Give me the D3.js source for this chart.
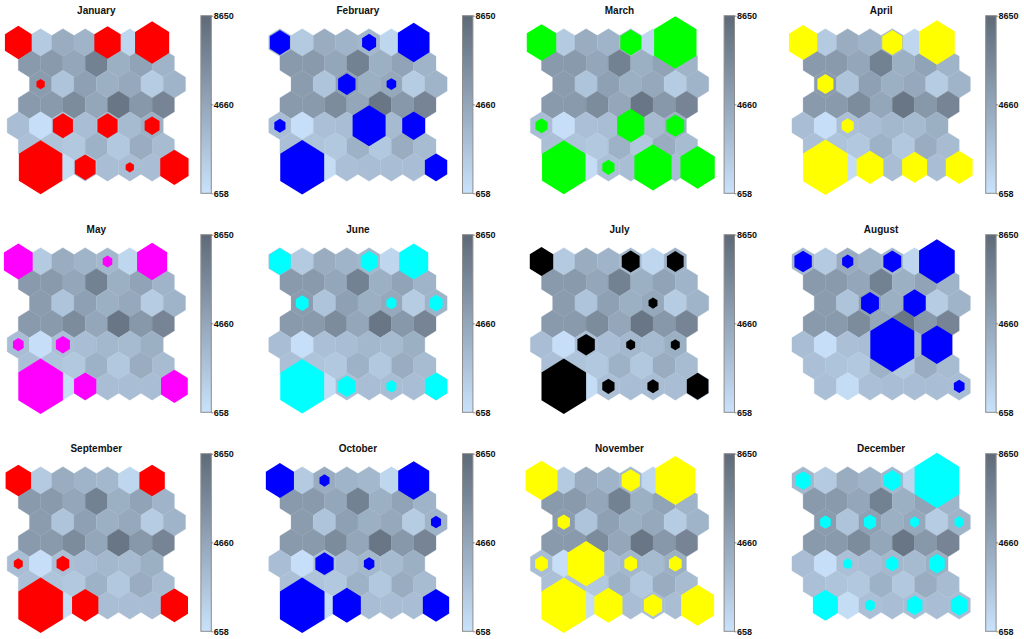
<!DOCTYPE html>
<html><head><meta charset="utf-8">
<script src="https://cdn.jsdelivr.net/npm/d3@7"></script>
<style>body{margin:0;background:#fff}svg{display:block}</style>
</head><body><svg id="c" width="1024" height="639"></svg>
<script>
const months = ["January","February","March","April","May","June","July","August","September","October","November","December"];
const hitColors = ["#ff0000","#0000ff","#00ff00","#ffff00","#ff00ff","#00ffff","#000000","#0000ff","#ff0000","#0000ff","#ffff00","#00ffff"];
const colorTicks = [658, 4660, 8650];
// component plane values, 7 rows x 7 columns
const planeRow0 = [3455, 2256, 4254, 3695, 3455, 1457, 3855];
const planeRow1 = [5453, 5453, 4654, 7052, 4015, 4814, 3695];
const planeRow2 = [5293, 2656, 5054, 4015, 4494, 2097, 3695];
const planeRow3 = [5453, 5453, 6412, 4654, 7851, 5613, 6892];
const planeRow4 = [3056, 898, 2896, 3056, 3455, 3295, 4015];
const planeRow5 = [2896, 2656, 2416, 3855, 2416, 4254, 3215];
const planeRow6 = [2896, 1058, 2896, 3056, 3056, 3056, 3056];
const rowShift = [0, 0.5, 1, 0.5, 0, 0.5, 1];
// hits: [row, col, relative hit size]
const hitsJan = [[0,0,1.2],[0,4,1.18],[0,6,1.53],[2,0,0.37],[4,2,0.9],[4,4,0.9],[4,6,0.67],[6,0,1.95],[6,2,0.93],[6,4,0.37],[6,6,1.27]];
const hitsFeb = [[0,0,0.9],[0,4,0.63],[0,6,1.42],[2,2,0.78],[2,4,0.43],[4,0,0.5],[4,4,1.48],[4,6,1.03],[6,0,1.97],[6,6,1.0]];
const hitsMar = [[0,0,1.32],[0,4,0.93],[0,6,1.9],[4,0,0.54],[4,4,1.22],[4,6,0.8],[6,0,1.95],[6,2,0.55],[6,4,1.67],[6,6,1.54]];
const hitsApr = [[0,0,1.27],[0,4,0.9],[0,6,1.6],[2,0,0.72],[4,2,0.54],[6,0,2.0],[6,2,1.2],[6,4,1.12],[6,6,1.2]];
const hitsMay = [[0,0,1.29],[0,4,0.43],[0,6,1.35],[4,0,0.48],[4,2,0.63],[6,0,2.0],[6,2,1.0],[6,6,1.2]];
const hitsJun = [[0,0,0.97],[0,4,0.75],[0,6,1.3],[2,0,0.57],[2,4,0.45],[2,6,0.6],[6,0,1.97],[6,2,0.78],[6,4,0.45],[6,6,1.0]];
const hitsJul = [[0,0,1.05],[0,4,0.8],[0,6,0.75],[2,4,0.4],[4,2,0.78],[4,4,0.4],[4,6,0.4],[6,0,2.0],[6,2,0.55],[6,4,0.5],[6,6,0.97]];
const hitsAug = [[0,0,0.78],[0,2,0.5],[0,4,0.8],[0,6,1.6],[2,2,0.8],[2,4,1.0],[4,4,1.97],[4,6,1.39],[6,6,0.48]];
const hitsSep = [[0,0,1.14],[0,6,1.14],[4,0,0.4],[4,2,0.57],[6,0,2.0],[6,2,1.18],[6,6,1.22]];
const hitsOct = [[0,0,1.26],[0,2,0.45],[0,6,1.39],[2,6,0.45],[4,2,0.82],[4,4,0.47],[6,0,2.0],[6,2,1.26],[6,6,1.18]];
const hitsNov = [[0,0,1.43],[0,4,0.82],[0,6,1.77],[2,0,0.55],[4,0,0.57],[4,2,1.63],[4,4,0.57],[4,6,0.57],[6,0,2.0],[6,2,1.26],[6,4,0.82],[6,6,1.48]];
const hitsDec = [[0,0,0.67],[0,4,0.75],[0,6,2.0],[2,0,0.48],[2,2,0.55],[2,4,0.4],[2,6,0.42],[4,2,0.4],[4,4,0.55],[4,6,0.7],[6,0,1.12],[6,2,0.43],[6,4,0.7],[6,6,0.75]];

const planeValues = [planeRow0, planeRow1, planeRow2, planeRow3, planeRow4, planeRow5, planeRow6];
const hitsByMonth = [hitsJan, hitsFeb, hitsMar, hitsApr, hitsMay, hitsJun, hitsJul, hitsAug, hitsSep, hitsOct, hitsNov, hitsDec];

const svg = d3.select("#c");
const dx = 22.3, dy = 20.8;
const hw = dx / 2, hh = dy / 1.5;
const lowC = "#c9e2fb", highC = "#5e6a78";
const color = d3.scaleLinear().domain([658, 8650]).range([lowC, highC]).interpolate(d3.interpolateRgb);
const sizeScale = d3.scaleLinear().domain([0, 1]).range([0, 1]);
const xCell = d3.scaleLinear().domain([0, 1]).range([0, dx]);
const yCell = d3.scaleLinear().domain([0, 1]).range([0, dy]);

function hexPath(s) {
  const w = hw * s, h = hh * s;
  return `M0,${-h}L${w},${-h/2}L${w},${h/2}L0,${h}L${-w},${h/2}L${-w},${-h/2}Z`;
}

const defs = svg.append("defs");
const grad = defs.append("linearGradient").attr("id", "cbar").attr("x1", 0).attr("y1", 1).attr("x2", 0).attr("y2", 0);
d3.range(0, 1.0001, 0.1).forEach(t => {
  grad.append("stop").attr("offset", t).attr("stop-color", color(658 + t * (8650 - 658)));
});

const cells = [];
planeValues.forEach((row, r) => row.forEach((v, c) => cells.push({r, c, v})));

months.forEach((m, i) => {
  const pc = i % 4, pr = Math.floor(i / 4);
  const x0 = 18.3 + 261.6 * pc, y0 = 42.5 + 219 * pr;
  const g = svg.append("g").attr("transform", `translate(${x0},${y0})`);

  g.selectAll("path.cell").data(cells).enter().append("path")
    .attr("class", "cell")
    .attr("transform", d => `translate(${xCell(d.c + rowShift[d.r])},${yCell(d.r)})`)
    .attr("d", hexPath(1))
    .attr("fill", d => color(d.v))
    .attr("stroke", d => color(d.v))
    .attr("stroke-width", 0.3);

  g.selectAll("path.hit").data(hitsByMonth[i]).enter().append("path")
    .attr("class", "hit")
    .attr("transform", d => `translate(${xCell(d[1] + rowShift[d[0]])},${yCell(d[0])})`)
    .attr("d", d => hexPath(sizeScale(d[2])))
    .attr("fill", hitColors[i]);

  svg.append("text")
    .attr("x", x0 + 78).attr("y", 14 + 219 * pr)
    .attr("text-anchor", "middle")
    .attr("font-family", "Liberation Sans, Arial, sans-serif")
    .attr("font-weight", "bold").attr("font-size", 10)
    .attr("fill", "#111")
    .text(m);

  // colorbar
  const bx = x0 + 182.6, by = 15.7 + 219 * pr, bw = 10.4, bh = 177.6;
  const cb = svg.append("g").attr("transform", `translate(${bx},${by})`);
  cb.append("rect").attr("width", bw).attr("height", bh)
    .attr("fill", "url(#cbar)").attr("stroke", "#8c8c8c").attr("stroke-width", 1);
  const yb = d3.scaleLinear().domain([658, 8650]).range([bh, 0]);
  const ax = cb.append("g").attr("transform", `translate(${bw},0)`)
    .call(d3.axisRight(yb).tickValues(colorTicks).tickSize(2).tickPadding(0.5).tickFormat(d3.format("d")));
  ax.select(".domain").remove();
  ax.selectAll("line").attr("stroke", "#444").attr("stroke-width", 0.6);
  ax.selectAll("text")
    .attr("font-family", "Liberation Sans, Arial, sans-serif")
    .attr("font-weight", "bold").attr("font-size", 9).attr("fill", "#111");
});
</script></body></html>
